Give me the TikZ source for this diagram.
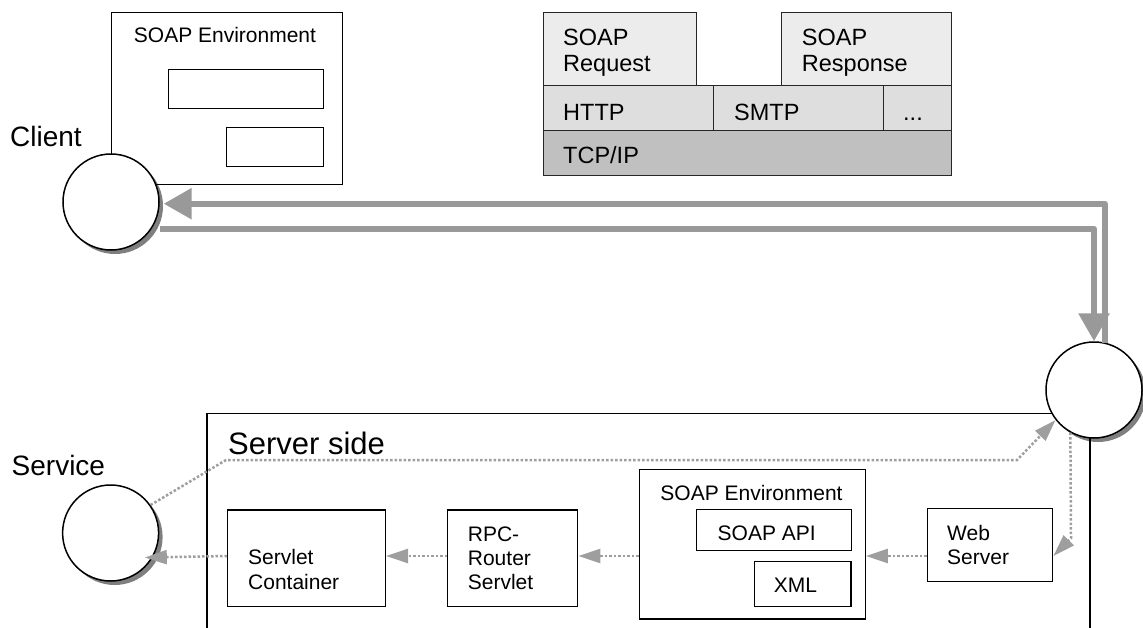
\documentclass[tikz,border=0pt]{standalone}
\usepackage{fontspec}
\setmainfont{Liberation Sans}
\usetikzlibrary{arrows.meta,shadows}
\definecolor{arrgray}{RGB}{153,153,153}
\definecolor{dotgray}{RGB}{158,158,158}
\definecolor{reqfill}{RGB}{236,236,236}
\definecolor{httpfill}{RGB}{222,222,222}
\definecolor{tcpfill}{RGB}{192,192,192}
\begin{document}
\begin{tikzpicture}[x=1pt,y=-1pt,
  blk/.style={draw=black,line width=1.4pt,inner sep=0pt,anchor=north west},
  stk/.style={draw=black!85,line width=1.2pt,inner sep=0pt,anchor=north west},
  ball/.style={circle,draw=black,line width=1.5pt,fill=white,minimum size=96pt,inner sep=0pt,
    drop shadow={shadow xshift=4pt,shadow yshift=-4pt,fill=black,opacity=0.5}},
  sm/.style={font=\fontsize{21}{24.5}\selectfont,inner sep=0pt},
  md/.style={font=\fontsize{23.5}{27}\selectfont,inner sep=0pt},
  lg/.style={font=\fontsize{28}{32}\selectfont,inner sep=0pt},
  big/.style={draw=arrgray,line width=6pt,line join=round,-{Triangle[length=28pt,width=30pt]}},
  dotarr/.style={draw=dotgray,line width=2.5pt,dash pattern=on 2.5pt off 2pt,-{Triangle[length=22pt,width=14pt]}},
]
\useasboundingbox (0,0) rectangle (1143,627);

% ---------- client side ----------
\node[blk,minimum width=231pt,minimum height=172pt] (cenv) at (111,12) {};
\node[sm,anchor=base] (cenvT) at (225,42) {SOAP Environment};
\node[blk,minimum width=155pt,minimum height=39pt] (ci1) at (168,69) {};
\node[blk,minimum width=97pt,minimum height=39pt] (ci2) at (226,127) {};
\node[lg,anchor=base west] (clientT) at (10,146) {Client};

% ---------- protocol stack ----------
\node[stk,fill=reqfill,minimum width=153pt,minimum height=72.5pt] (req) at (543,12) {};
\node[stk,fill=reqfill,minimum width=170pt,minimum height=72.5pt] (resp) at (781,12) {};
\node[stk,fill=httpfill,minimum width=170pt,minimum height=45.5pt] (http) at (543,84.5) {};
\node[stk,fill=httpfill,minimum width=170pt,minimum height=45.5pt] (smtp) at (713,84.5) {};
\node[stk,fill=httpfill,minimum width=68pt,minimum height=45.5pt] (more) at (883,84.5) {};
\node[stk,fill=tcpfill,minimum width=408pt,minimum height=45pt] (tcp) at (543,130) {};
\node[md,anchor=base west] (reqA) at (563,45) {SOAP};
\node[md,anchor=base west] (reqB) at (563,71.7) {Request};
\node[md,anchor=base west] (respA) at (801.7,45) {SOAP};
\node[md,anchor=base west] (respB) at (801.7,71.7) {Response};
\node[md,anchor=base west] (httpT) at (563,120) {HTTP};
\node[md,anchor=base west] (smtpT) at (734,120) {SMTP};
\node[md,anchor=base west] (moreT) at (903,120) {...};
\node[md,anchor=base west] (tcpT) at (563,163.3) {TCP/IP};

% ---------- server side ----------
\draw[line width=1.4pt] (207,632) -- (207,413.5) -- (1090,413.5) -- (1090,632);
\node[font=\fontsize{31}{36}\selectfont,inner sep=0pt,anchor=base west] (sideT) at (228,454) {Server side};
\node[lg,anchor=base west] (serviceT) at (11.5,475) {Service};

\node[blk,minimum width=226pt,minimum height=149.3pt] (soapenv) at (638.5,469) {};
\node[sm,anchor=base] (soapenvT) at (751.5,500) {SOAP Environment};
\node[blk,minimum width=155pt,minimum height=41pt] (api) at (695.6,509) {};
\node[sm,anchor=base] (apiT) at (766.7,540) {SOAP API};
\node[blk,minimum width=96.6pt,minimum height=45pt] (xml) at (753.8,560.7) {};
\node[sm,anchor=base] (xmlT) at (795.5,592) {XML};
\node[blk,minimum width=125.5pt,minimum height=73pt] (web) at (926.5,508) {};
\node[sm,anchor=base west] (webA) at (947,540) {Web};
\node[sm,anchor=base west] (webB) at (947,564) {Server};
\node[blk,minimum width=130pt,minimum height=96.4pt] (rpc) at (447,509.3) {};
\node[sm,anchor=base west] (rpcA) at (467.7,541.7) {RPC-};
\node[sm,anchor=base west] (rpcB) at (467.7,565) {Router};
\node[sm,anchor=base west] (rpcC) at (467.7,589.3) {Servlet};
\node[blk,minimum width=157.6pt,minimum height=96.4pt] (servlet) at (227,509.3) {};
\node[sm,anchor=base west] (servletA) at (248,564) {Servlet};
\node[sm,anchor=base west] (servletB) at (248,589.3) {Container};

% ---------- circles ----------
\node[ball] (client) at (111,202) {};
\node[ball] (server) at (1094,390) {};
\node[ball] (service) at (110.6,533) {};

% ---------- connectors ----------
\draw[big,shorten >=4pt] (server.77) |- (client.-2);
\draw[big,shorten <=8pt] (client.-33) -| (server.north);

\coordinate (lvl) at (0,556);
\draw[dotarr] (web.west |- lvl) -- (soapenv.east |- lvl);
\draw[dotarr] (soapenv.west |- lvl) -- (rpc.east |- lvl);
\draw[dotarr] (rpc.west |- lvl) -- (servlet.east |- lvl);
\draw[dotarr,shorten >=-8pt] (servlet.west |- lvl) -- (service.-30);
\draw[dotarr] (service.35) -- (226,460) -- (1017,460) -- (server.-142);
\draw[dotarr] (server.-119) -- (1071,538) -- (web.east |- lvl);
\end{tikzpicture}
\end{document}
